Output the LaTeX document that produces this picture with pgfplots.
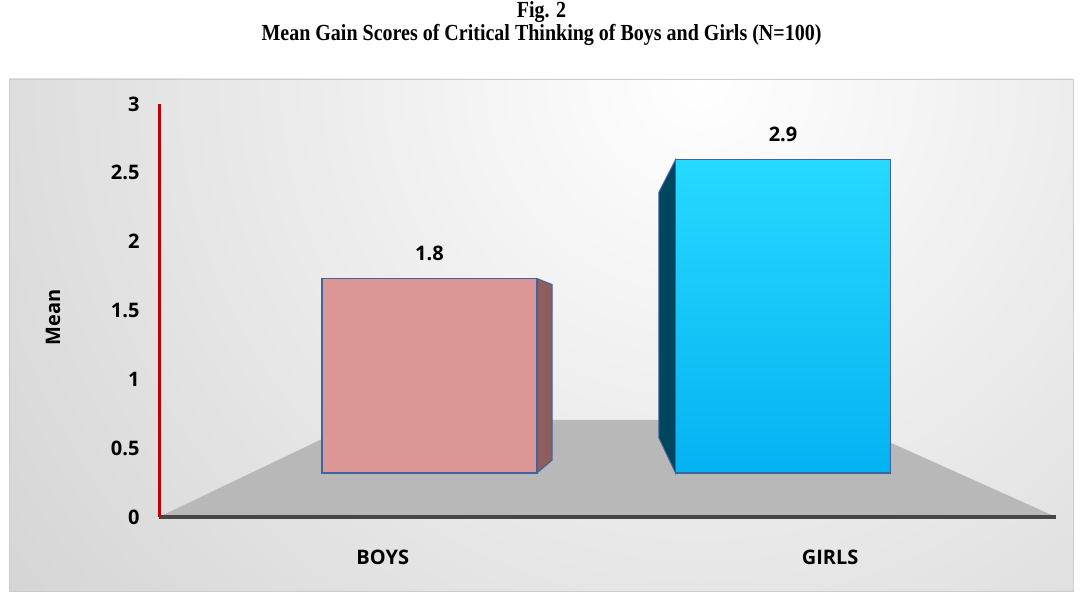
\documentclass[border=0pt]{standalone}
\usepackage{fontspec}
\setmainfont{Liberation Serif}
\setsansfont{Open Sans}
\usepackage{pgfplots}
\pgfplotsset{compat=1.18}
\definecolor{bgout}{RGB}{194,194,194}
\definecolor{floorgray}{RGB}{184,184,184}
\definecolor{axisgray}{RGB}{70,70,70}
\definecolor{axisred}{RGB}{192,0,0}
\definecolor{barblue}{RGB}{62,100,160}
\definecolor{boysfill}{RGB}{219,150,149}
\definecolor{boysside}{RGB}{140,94,94}
\definecolor{girlstop}{RGB}{38,217,255}
\definecolor{girlsbot}{RGB}{5,178,242}
\definecolor{girlsside}{RGB}{0,70,95}
\begin{document}
\begin{tikzpicture}[x=1pt,y=1pt]
\path[use as bounding box] (0,0) rectangle (1083,599);
\begin{scope}
\clip (9,8) rectangle (1073,520);
\shade[inner color=white, outer color=bgout] (700,520) circle (1250);
\end{scope}
\draw[gray!40, line width=0.5pt] (9,8) rectangle (1073,520);
\node[font=\bfseries\fontsize{20}{24}\selectfont, yscale=1.15, inner sep=0pt] at (541.5,587) {Fig. 2};
\node[font=\bfseries\fontsize{20}{24}\selectfont, yscale=1.15, inner sep=0pt] at (541.5,564) {Mean Gain Scores of Critical Thinking of Boys and Girls (N=100)};

% main axis: value scale, floor, labels
\begin{axis}[
  at={(159pt,82pt)}, anchor=south west,
  scale only axis, width=897pt, height=413pt,
  xmin=-0.765, xmax=1.772, ymin=0, ymax=3,
  axis lines=left, axis on top=true,
  axis line style={-},
  x axis line style={draw=axisgray, line width=4pt},
  y axis line style={draw=axisred, line width=3pt},
  major tick length=0pt,
  ytick={0,0.5,1,1.5,2,2.5,3},
  xtick={-0.132,1.133},
  xticklabels={BOYS,GIRLS},
  /pgf/number format/assume math mode=true,
  tick label style={font=\sffamily\bfseries\fontsize{20}{24}\selectfont},
  yticklabel style={xshift=-16pt},
  xticklabel style={anchor=center, yshift=-40pt},
  ylabel={Mean},
  ylabel style={at={(axis description cs:-0.118,0.484)}, anchor=center,
    font=\sffamily\bfseries\fontsize{20}{24}\selectfont},
]
\fill[floorgray] (axis cs:-0.765,0) -- (axis cs:1.772,0) -- (axis cs:1.161,0.705) -- (axis cs:-0.191,0.705) -- cycle;
\end{axis}

% bar axis (perspective front plane)
\begin{axis}[
  at={(159pt,126pt)}, anchor=south west,
  scale only axis, width=897pt, height=324pt,
  xmin=-0.765, xmax=1.772, ymin=0, ymax=3,
  hide axis, clip=false,
  /pgf/number format/assume math mode=true,
]
\addplot[fill=boysside, draw=barblue, line width=1pt] coordinates {(0.304,0) (0.304,1.8) (0.347,1.745) (0.347,0.12)} -- cycle;
\addplot[fill=girlsside, draw=barblue, line width=1pt] coordinates {(0.696,0) (0.696,2.9) (0.649,2.60) (0.649,0.324)} -- cycle;
\addplot[ybar, bar width=0.608, draw=barblue, line width=1.3pt, fill=boysfill,
  nodes near coords, nodes near coords style={anchor=center, yshift=25pt,
  font=\sffamily\bfseries\fontsize{20}{24}\selectfont, text=black}] coordinates {(0,1.8)};
\addplot[ybar, bar width=0.608, draw=barblue, line width=1.3pt, top color=girlstop, bottom color=girlsbot,
  nodes near coords, nodes near coords style={anchor=center, yshift=25pt,
  font=\sffamily\bfseries\fontsize{20}{24}\selectfont, text=black}] coordinates {(1,2.9)};
\end{axis}
\end{tikzpicture}
\end{document}
